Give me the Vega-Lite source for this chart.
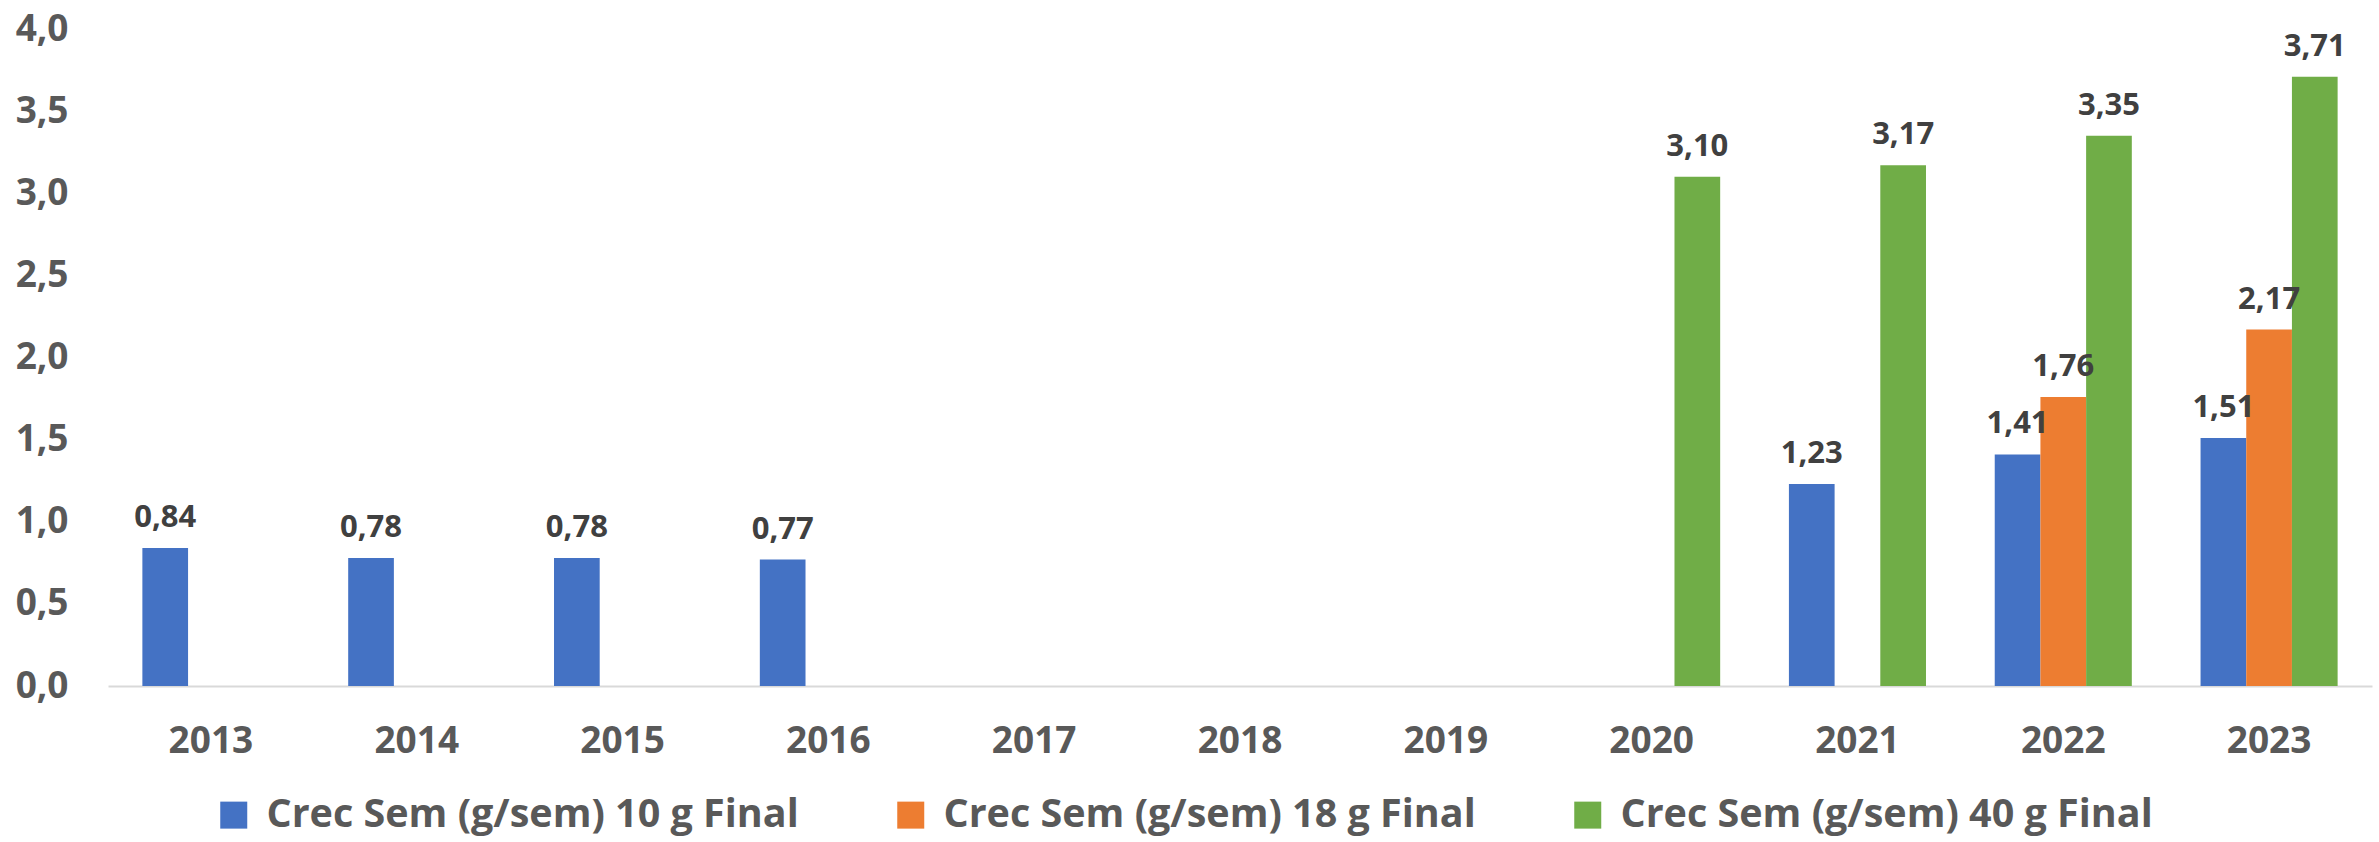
{
  "$schema": "https://vega.github.io/schema/vega-lite/v6.json",
  "width": 2264,
  "height": 657,
  "autosize": "none",
  "padding": {"left": 108, "top": 29, "right": 7, "bottom": 156},
  "background": "white",
  "config": {
    "locale": {"number": {"decimal": ",", "thousands": ".", "grouping": [3], "currency": ["", " €"]}},
    "view": {"stroke": null},
    "font": "Open Sans"
  },
  "data": {
    "values": [
      {"year": "2013", "series": "Crec Sem (g/sem) 10 g Final", "value": 0.84},
      {"year": "2014", "series": "Crec Sem (g/sem) 10 g Final", "value": 0.78},
      {"year": "2015", "series": "Crec Sem (g/sem) 10 g Final", "value": 0.78},
      {"year": "2016", "series": "Crec Sem (g/sem) 10 g Final", "value": 0.77},
      {"year": "2020", "series": "Crec Sem (g/sem) 40 g Final", "value": 3.10},
      {"year": "2021", "series": "Crec Sem (g/sem) 10 g Final", "value": 1.23},
      {"year": "2021", "series": "Crec Sem (g/sem) 40 g Final", "value": 3.17},
      {"year": "2022", "series": "Crec Sem (g/sem) 10 g Final", "value": 1.41},
      {"year": "2022", "series": "Crec Sem (g/sem) 18 g Final", "value": 1.76},
      {"year": "2022", "series": "Crec Sem (g/sem) 40 g Final", "value": 3.35},
      {"year": "2023", "series": "Crec Sem (g/sem) 10 g Final", "value": 1.51},
      {"year": "2023", "series": "Crec Sem (g/sem) 18 g Final", "value": 2.17},
      {"year": "2023", "series": "Crec Sem (g/sem) 40 g Final", "value": 3.71}
    ]
  },
  "encoding": {
    "x": {
      "field": "year",
      "type": "nominal",
      "sort": null,
      "scale": {
        "domain": ["2013", "2014", "2015", "2016", "2017", "2018", "2019", "2020", "2021", "2022", "2023"],
        "paddingInner": 0.334,
        "paddingOuter": 0.167
      },
      "axis": {
        "title": null,
        "labelAngle": 0,
        "domain": true,
        "domainColor": "#D9D9D9",
        "domainWidth": 2,
        "ticks": false,
        "grid": false,
        "labelPadding": 37,
        "labelFontSize": 37,
        "labelFontWeight": "bold",
        "labelColor": "#595959"
      }
    },
    "xOffset": {
      "field": "series",
      "type": "nominal",
      "scale": {"domain": ["Crec Sem (g/sem) 10 g Final", "Crec Sem (g/sem) 18 g Final", "Crec Sem (g/sem) 40 g Final"]}
    },
    "y": {
      "field": "value",
      "type": "quantitative",
      "scale": {"domain": [0, 4], "nice": false},
      "axis": {
        "title": null,
        "values": [0, 0.5, 1, 1.5, 2, 2.5, 3, 3.5, 4],
        "format": ".1f",
        "domain": false,
        "grid": false,
        "ticks": false,
        "labelPadding": 40,
        "labelFontSize": 37,
        "labelFontWeight": "bold",
        "labelColor": "#595959"
      }
    }
  },
  "layer": [
    {
      "mark": {"type": "bar"},
      "encoding": {
        "color": {
          "field": "series",
          "type": "nominal",
          "scale": {
            "domain": ["Crec Sem (g/sem) 10 g Final", "Crec Sem (g/sem) 18 g Final", "Crec Sem (g/sem) 40 g Final"],
            "range": ["#4472C4", "#ED7D31", "#70AD47"]
          },
          "legend": {
            "title": null,
            "orient": "none",
            "legendX": 106,
            "legendY": 766,
            "direction": "horizontal",
            "columns": 3,
            "padding": 0,
            "symbolType": "square",
            "symbolSize": 729,
            "symbolStrokeWidth": 0,
            "labelFontSize": 39.5,
            "labelFontWeight": "bold",
            "labelColor": "#595959",
            "labelOffset": 13,
            "labelLimit": 1000,
            "columnPadding": 92
          }
        }
      }
    },
    {
      "mark": {"type": "text", "dy": -21, "baseline": "alphabetic", "fontSize": 31, "fontWeight": "bold", "color": "#404040"},
      "encoding": {
        "text": {"field": "value", "type": "quantitative", "format": ".2f"}
      }
    }
  ]
}
